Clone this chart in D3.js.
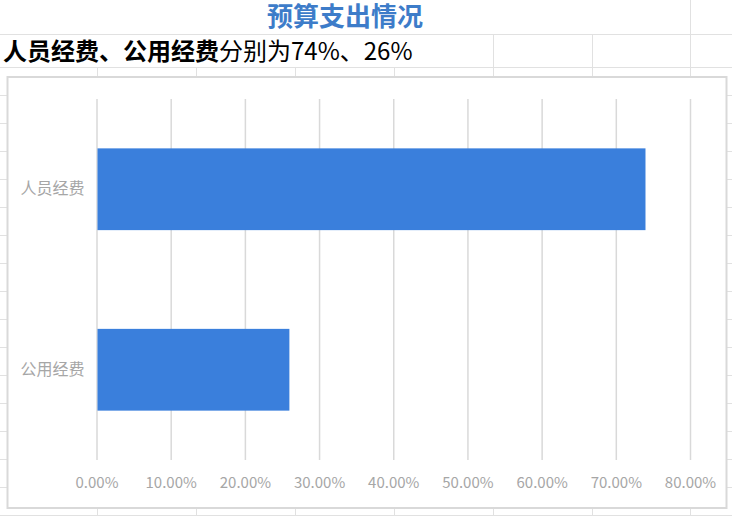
<!DOCTYPE html>
<html>
<head>
<meta charset="utf-8">
<script src="https://cdn.jsdelivr.net/npm/d3@7"></script>
<style>
  html, body { margin: 0; padding: 0; background: #fff; }
  svg { display: block; font-family: "Noto Sans CJK SC", "Noto Sans", sans-serif; }
</style>
</head>
<body>
<div id="chart"></div>
<script>
// chart values
const categories = ["人员经费", "公用经费"];
const values = [0.74, 0.26];
const xTicks = [0, 0.1, 0.2, 0.3, 0.4, 0.5, 0.6, 0.7, 0.8];
const titleText = "预算支出情况";
const subtitleBold = "人员经费、公用经费";
const subtitleRest = "分别为74%、26%";

const width = 732, height = 516;
const plot = { left: 96.5, right: 690, top: 99, bottom: 460 };

const svg = d3.select("#chart")
    .append("svg")
    .attr("width", width)
    .attr("height", height);

// ========== SPREADSHEET GRID BEHIND THE CHART ==========
const sheet = svg.append("g").attr("stroke", "#e1e1e1").attr("stroke-width", 1);
const rowLines = [34, 67];
for (let y = 95; y <= 516; y += 28) rowLines.push(y);
rowLines.forEach(y => {
    sheet.append("line").attr("x1", 0).attr("x2", width).attr("y1", y + 0.5).attr("y2", y + 0.5);
});
const colLines = [97, 196, 295, 394, 493, 592, 690];
colLines.forEach(x => {
    // title row is merged up to 690, subtitle row up to 493
    const y0 = x >= 690 ? 0 : (x >= 493 ? 34 : 67);
    sheet.append("line").attr("x1", x + 0.5).attr("x2", x + 0.5).attr("y1", y0).attr("y2", height);
});

// ========== TITLE + SUBTITLE ==========
svg.append("text")
    .attr("x", 345)
    .attr("y", 26)
    .attr("text-anchor", "middle")
    .attr("font-size", 26)
    .attr("font-weight", "bold")
    .attr("fill", "#3d7cc9")
    .text(titleText);

const sub = svg.append("text")
    .attr("x", 3)
    .attr("y", 60)
    .attr("font-size", 24)
    .attr("fill", "#000");
sub.append("tspan").attr("font-weight", "bold").text(subtitleBold);
sub.append("tspan").text(subtitleRest);

// ========== CHART BOX ==========
svg.append("rect")
    .attr("x", 7.5)
    .attr("y", 77)
    .attr("width", 719)
    .attr("height", 431)
    .attr("fill", "#fff")
    .attr("stroke", "#d9d9d9")
    .attr("stroke-width", 2);

// ========== SCALES ==========
const x = d3.scaleLinear()
    .domain([0, 0.8])
    .range([plot.left, plot.right]);

const y = d3.scaleBand()
    .domain(categories)
    .range([plot.top, plot.bottom])
    .paddingInner(0.547)
    .paddingOuter(0.2735);

// ========== GRIDLINES + BOTTOM AXIS ==========
const xAxis = svg.append("g")
    .attr("transform", `translate(0, ${plot.bottom})`)
    .call(d3.axisBottom(x)
        .tickValues(xTicks)
        .tickFormat(d3.format(".2%"))
        .tickSize(-(plot.bottom - plot.top))
        .tickPadding(17));
xAxis.select(".domain").remove();
xAxis.selectAll(".tick line")
    .attr("stroke", "#d9d9d9")
    .attr("stroke-width", 1.5);
xAxis.selectAll(".tick text")
    .attr("font-size", 15)
    .attr("fill", "#a6a6a6")
    .attr("font-family", "'Noto Sans CJK SC', 'Noto Sans', sans-serif");

// ========== BARS ==========
svg.append("g")
    .selectAll("rect")
    .data(categories)
    .join("rect")
    .attr("x", x(0) + 1)
    .attr("y", d => y(d))
    .attr("width", (d, i) => x(values[i]) - x(0) - 1)
    .attr("height", y.bandwidth())
    .attr("fill", "#3a7fdc");

// ========== LEFT AXIS (category labels) ==========
const yAxis = svg.append("g")
    .attr("transform", `translate(${plot.left}, 0)`)
    .call(d3.axisLeft(y).tickSize(0).tickPadding(12));
yAxis.select(".domain").remove();
yAxis.selectAll(".tick text")
    .attr("font-size", 16)
    .attr("fill", "#a6a6a6")
    .attr("font-family", "'Noto Sans CJK SC', sans-serif");
</script>
</body>
</html>
